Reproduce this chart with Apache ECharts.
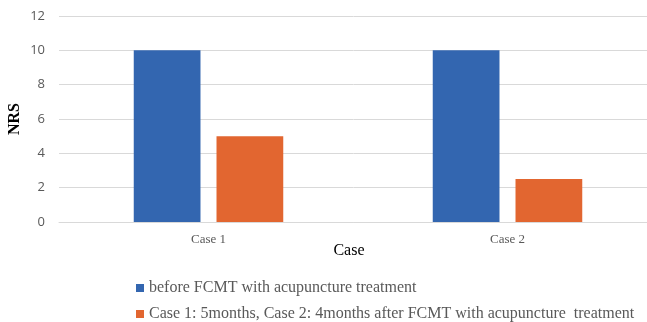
<!DOCTYPE html>
<html>
<head>
<meta charset="utf-8">
<script src="https://cdn.jsdelivr.net/npm/echarts@6/dist/echarts.min.js"></script>
<style>
  html, body { margin: 0; padding: 0; background: #fff; }
  #main { width: 647px; height: 322px; }
</style>
</head>
<body>
<div id="main"></div>
<script>
var categories = ['Case 1', 'Case 2'];
var seriesNames = [
  'before FCMT with acupuncture treatment',
  'Case 1: 5months, Case 2: 4months after FCMT with acupuncture  treatment'
];
var beforeValues = [10, 10];
var afterValues = [5, 2.5];

var legendText = { fontFamily: 'Liberation Serif', fontSize: 16, color: '#595959' };

var chart = echarts.init(document.getElementById('main'));
var option = {
  animation: false,
  textStyle: { fontFamily: 'Liberation Serif' },
  grid: { left: 59, width: 598, top: 16, bottom: 100, outerBoundsMode: 'none', containLabel: false },
  legend: [
    {
      left: 131, top: 275,
      itemWidth: 8, itemHeight: 8, icon: 'rect',
      textStyle: legendText,
      data: [seriesNames[0]]
    },
    {
      left: 131, top: 301,
      itemWidth: 8, itemHeight: 8, icon: 'rect',
      textStyle: legendText,
      data: [seriesNames[1]]
    }
  ],
  xAxis: {
    type: 'category',
    data: categories,
    name: 'Case',
    nameLocation: 'middle',
    nameGap: 21,
    nameMoveOverlap: false,
    nameTextStyle: { fontFamily: 'Liberation Serif', fontSize: 16, color: '#000', padding: [0, 18, 0, 0] },
    axisLine: { lineStyle: { color: '#d9d9d9' } },
    axisTick: { show: false },
    axisLabel: { fontFamily: 'Liberation Serif', fontSize: 13, color: '#595959', margin: 11 }
  },
  yAxis: {
    type: 'value',
    min: 0,
    max: 12,
    interval: 2,
    name: 'NRS',
    nameLocation: 'middle',
    nameGap: 36,
    nameMoveOverlap: false,
    nameTextStyle: { fontFamily: 'Liberation Serif', fontSize: 16, fontWeight: 'bold', color: '#000' },
    axisLine: { show: false },
    axisTick: { show: false },
    axisLabel: { fontFamily: 'Open Sans', fontSize: 13, color: '#595959', margin: 14 },
    splitLine: { lineStyle: { color: '#d9d9d9' } }
  },
  series: [
    {
      name: seriesNames[0],
      type: 'bar',
      data: beforeValues,
      barGap: '24%',
      barCategoryGap: '50%',
      itemStyle: { color: '#3366b0' }
    },
    {
      name: seriesNames[1],
      type: 'bar',
      data: afterValues,
      itemStyle: { color: '#e26630' }
    }
  ]
};
chart.setOption(option);
</script>
</body>
</html>
